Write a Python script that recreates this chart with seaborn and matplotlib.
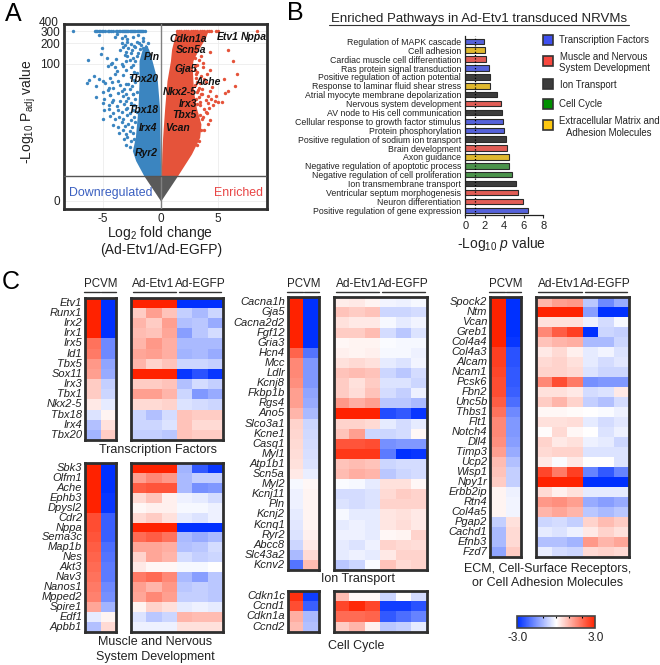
import numpy as np
import pandas as pd
import seaborn as sns
import matplotlib.pyplot as plt
from matplotlib.colors import LinearSegmentedColormap, Normalize
from matplotlib.cm import ScalarMappable
from matplotlib.patches import Rectangle

W, H = 660, 665

# panel A: dense wedges read as envelopes, sparse points read one by one
blue_core_y = [1.32, 2.88, 4.43, 7.5, 22, 56, 111, 164, 195]
blue_core_inner = [0, -0.02, -0.03, -0.05, -0.1, -0.29, -0.75, -1.05, -1.3]
blue_core_outer = [-1.45, -2.17, -2.46, -2.2, -1.97, -1.88, -1.88, -1.6, -1.3]
red_core_y = [1.32, 3.85, 7.5, 12.3, 22, 35, 56, 88, 111, 164, 244, 300]
red_core_inner = [0.05, 0.1, 0.17, 0.25, 0.35, 0.45, 0.55, 0.75, 0.85, 0.95, 1.2, 1.35]
red_core_outer = [1.45, 2.67, 3.39, 3.5, 3.1, 2.9, 2.8, 2.75, 2.8, 3.3, 3.9, 4.1]
cone_lfc = [-1.45, 0, 1.45]
cone_y = [1.32, 0, 1.32]
thresh_y = 1.32

blue_top_lfc = [-7.65, -5.7, -5.6, -5.5, -5.4, -5.3, -5.1, -5.0, -4.8, -4.6, -4.5, -4.3, -4.1, -3.9,
                -3.8, -3.6, -3.5, -3.4, -3.3, -3.2, -3.1, -3.0, -2.9, -2.8, -2.7, -2.6, -2.5, -2.4,
                -2.3, -2.2, -2.1, -2.0, -1.9, -1.8, -1.7, -1.6, -1.5, -1.4]
blue_lfc = [-5.36, -4.0, -3.8, -3.4, -3.1, -2.9, -2.4, -2.0, -1.5,
            -3.4, -3.1, -2.9, -2.6, -2.3, -2.1, -1.9, -1.7, -1.5, -1.3, -1.1,
            -5.1, -3.5, -3.3, -3.0, -2.8, -2.5, -2.2, -2.0, -1.8, -1.5, -1.2,
            -5.2, -4.7, -3.1, -2.9, -2.6, -2.4, -2.1,
            -6.3, -4.3, -4.2, -3.9, -3.4, -3.0, -2.7, -2.4, -2.2,
            -4.6, -4.0, -3.8, -3.3, -3.0, -2.6, -2.3,
            -6.2, -6.4, -5.8, -5.4, -5.0, -4.4, -4.0, -3.7, -3.3, -3.0, -2.6, -2.3, -2.1,
            -5.6, -4.8, -4.5, -4.2, -3.5, -3.2, -2.8, -2.5, -2.2,
            -5.0, -4.6, -4.4, -4.1, -3.7, -3.4, -3.0, -2.7, -2.4, -2.1,
            -5.6, -4.9, -4.4, -4.1, -3.3, -3.0, -2.8, -2.4, -2.2,
            -5.0, -4.5, -4.2, -3.8, -3.5, -3.2, -2.9, -2.6, -2.3,
            -4.9, -4.5, -4.1, -3.7, -3.4, -3.0, -2.7, -2.4, -2.1,
            -5.0, -4.4, -4.0, -3.6, -3.3, -2.9, -2.6, -2.3,
            -4.1, -3.7, -3.4, -3.1, -2.8, -2.5, -2.2,
            -3.6, -3.3, -3.0, -2.7, -2.4,
            -3.2, -2.9, -2.6, -2.3,
            -3.0, -2.7]
blue_y = [262, 245, 270, 238, 255, 228, 250, 265, 235,
          205, 190, 212, 196, 182, 208, 200, 188, 215, 178, 205,
          172, 160, 178, 150, 168, 158, 175, 145, 165, 172, 155,
          138, 122, 135, 128, 142, 120, 132,
          112, 100, 104, 118, 98, 108, 115, 96, 110,
          92, 88, 78, 94, 82, 90, 76,
          58, 52, 66, 60, 55, 62, 70, 56, 68, 50, 64, 58, 72,
          46, 52, 44, 54, 48, 42, 50, 46, 54,
          38, 41, 34, 43, 37, 40, 36, 42, 35, 38,
          32, 30, 34, 29, 33, 28, 31, 35, 30,
          26, 24, 27, 23, 28, 25, 22, 26, 24,
          20, 21, 18.5, 20, 19, 21, 18, 20, 19,
          15, 16.5, 14.5, 16, 15, 17, 14, 16,
          12, 11, 13, 11.5, 12.5, 11, 13,
          9, 10, 8.5, 9.5, 9,
          7, 7.5, 6.5, 7,
          5.6, 5.2]

red_top_lfc = [1.4, 1.6, 1.8, 2.0, 2.2, 2.4, 2.6, 2.8, 3.0, 3.2, 3.4, 3.6, 3.8, 4.0, 4.2, 4.4, 4.85, 5.0, 8.35]
red_lfc = [4.26, 5.85, 6.3, 6.6, 6.5, 5.85, 5.57, 5.5, 4.84, 4.4, 4.1, 5.3, 5.0, 4.55, 4.1, 3.8, 3.7, 4.0, 4.26,
           3.5, 3.8, 4.0, 4.26, 4.1, 3.8, 3.5, 3.3, 3.2, 3.6, 3.9, 3.2, 3.4, 3.1, 3.3, 3.5, 3.2, 3.6, 3.4,
           3.0, 3.3, 3.7, 4.3, 3.5, 3.2, 3.1, 3.4, 3.9, 4.2, 3.1, 3.4, 3.7, 3.0, 3.3, 3.0, 3.2, 4.5, 3.6,
           2.95, 3.15, 3.05, 3.25, 4.7, 3.95]
red_y = [147, 159, 109, 71, 46, 40, 37, 60, 33, 30, 33, 26.5, 27, 24, 26, 60, 88, 71, 40,
         35, 21, 18, 14, 12.3, 9.8, 9.8, 6.5, 5.6, 15, 29, 75, 52, 62, 44, 66, 95, 42, 27,
         120, 115, 103, 80, 130, 38, 30, 24, 19, 22, 18, 17, 16, 82, 32, 48, 25, 45, 35,
         92, 54, 70, 41, 28, 54]

gene_marks = ["Pln", "Tbx20", "Tbx18", "Irx4", "Ryr2", "Cdkn1a", "Etv1", "Nppa", "Scn5a", "Gja5", "Ache",
              "Nkx2-5", "Irx3", "Tbx5", "Vcan"]
gene_lfc = [-0.75, -1.5, -1.5, -1.07, -1.28, 2.4, 5.8, 8.06, 2.64, 2.14, 4.1, 1.68, 2.35, 2.1, 1.5]
gene_y = [127, 60, 20, 10.5, 4.07, 233, 250, 250, 158, 83, 54, 38, 25, 17, 10.6]

# panel B
pathways = ["Regulation of MAPK cascade", "Cell adhesion", "Cardiac muscle cell differentiation",
            "Ras protein signal transduction", "Positive regulation of action potential",
            "Response to laminar fluid shear stress", "Atrial myocyte membrane depolarization",
            "Nervous system development", "AV node to His cell communication",
            "Cellular response to growth factor stimulus", "Protein phosphorylation",
            "Positive regulation of sodium ion transport", "Brain development", "Axon guidance",
            "Negative regulation of apoptotic process", "Negative regulation of cell proliferation",
            "Ion transmembrane transport", "Ventricular septum morphogenesis", "Neuron differentiation",
            "Positive regulation of gene expression"]
pathway_logp = [1.9, 2.05, 2.1, 2.4, 2.5, 2.5, 3.3, 3.7, 3.8, 3.9, 4.0, 4.2, 4.3, 4.45, 4.5, 4.8, 5.2, 5.4, 5.9, 6.4]
pathway_group = ["tf", "ecm", "muscle", "tf", "ion", "ecm", "ion", "muscle", "ion", "tf", "tf", "ion", "muscle",
                 "ecm", "cycle", "cycle", "ion", "muscle", "muscle", "tf"]
group_colors = {"tf": "#3f50f0", "muscle": "#f8483f", "ion": "#3c3c3c", "cycle": "#3f9f3f", "ecm": "#fdc810"}
legend_colors = ["#3f50f0", "#f8483f", "#3c3c3c", "#009000", "#fdc810"]

# panel C
tf_genes = ["Etv1", "Runx1", "Irx2", "Irx1", "Irx5", "Id1", "Tbx5", "Sox11", "Irx3", "Tbx1", "Nkx2-5", "Tbx18",
            "Irx4", "Tbx20"]
tf_pcvm_a = [3, 3, 3, 3, 1.9, 1.8, 1.4, 1.3, 0.7, 0.7, 0.3, -0.4, -0.9, -1.1]
tf_pcvm_b = [-3, -3, -3, -3, -1.7, -1.7, -1.3, -1.2, -0.7, -0.6, -0.3, 0.15, 0.4, 0.7]
tf_ad = [[3, 3, 3, -3, -3, -3], [0.7, 1.3, 0.8, -0.7, -1, -0.6], [1, 0.7, 1.3, -0.9, -0.8, -1.2],
         [0.9, 0.8, 1.2, -1.4, -0.8, -0.5], [1, 1.4, 1.1, -1, -1, -1], [1.2, 1.3, 1.1, -1.1, -1, -1.2],
         [1, 0.6, 0.8, -0.6, -0.6, -0.7], [3, 3, 3, -2.9, -2.5, -2.9], [0.7, 0.7, 0.8, -0.9, -0.5, -0.7],
         [1.3, 1.3, 1, -0.6, -1.5, -1.2], [0.5, 0.5, 0.6, -0.4, -0.5, -0.6], [-0.6, -0.9, -0.5, 0.8, 0.7, 0.7],
         [-0.6, -0.6, -0.4, 0.8, 0.5, 0.5], [-0.7, -0.7, -0.8, 0.8, 0.7, 0.7]]

muscle_genes = ["Sbk3", "Olfm1", "Ache", "Ephb3", "Dpysl2", "Cdr2", "Nppa", "Sema3c", "Map1b", "Nes", "Akt3", "Nav3",
                "Nanos1", "Mpped2", "Spire1", "Edf1", "Apbb1"]
muscle_pcvm_a = [3, 3, 3, 3, 3, 2.4, 2.4, 2.3, 2.2, 2.1, 2, 1.9, 1.8, 1.7, 1.2, -0.3, -0.9]
muscle_pcvm_b = [-3, -3, -3, -2.9, -2.9, -2.3, -2.3, -2.3, -2.1, -2, -1.9, -1.9, -1.7, -1.6, -1.1, 0.15, 0.5]
muscle_ad = [[3, 3, 3, -1.1, -2.4, -2.9], [1.3, 1.6, 1.4, -1, -0.7, -0.7], [2.2, 2.3, 2.3, -1, -1.6, -1.5],
             [0.5, 0.8, 0.2, -0.2, -0.3, -0.5], [0.1, 0.2, 0.2, -0.1, -0.1, -0.2], [0.5, 0.7, 0.4, -0.3, -0.4, -0.2],
             [3, 3, 3, -3, -3, -3], [2, 2.2, 1.9, -1, -1.2, -1], [1.2, 1.2, 1.1, -0.9, -0.8, -0.5],
             [0.6, 1.2, 1, -0.5, -0.7, -0.6], [0.3, 0.1, 0.1, -0.1, -0.1, 0], [1.8, 2, 1.6, -1, -1.4, -0.8],
             [1.3, 1, 1.4, -0.8, -0.7, -0.8], [1.2, 1.6, 1.3, -0.7, -0.7, -0.8], [0.15, 0.6, 0.4, -0.3, -0.2, -0.3],
             [-0.4, -0.8, -0.6, 1, 0.9, 0.9], [-0.2, -0.2, -0.2, 0.4, 0.4, 0.4]]

ion_genes = ["Cacna1h", "Gja5", "Cacna2d2", "Fgf12", "Gria3", "Hcn4", "Mcc", "Ldlr", "Kcnj8", "Fkbp1b", "Rgs4", "Ano5",
             "Slco3a1", "Kcne1", "Casq1", "Myl1", "Atp1b1", "Scn5a", "Myl2", "Kcnj11", "Pln", "Kcnj2", "Kcnq1", "Ryr2",
             "Abcc8", "Slc43a2", "Kcnv2"]
ion_pcvm_a = [3, 3, 3, 3, 3, 2.1, 1.6, 1.6, 1.5, 1.3, 1.3, 1, 0.6, 0.55, 0.5, 0.45, 0.4, 0.3, -0.1, -0.2, -0.2, -0.3,
              -0.35, -0.4, -0.6, -1, -2]
ion_pcvm_b = [-3, -3, -3, -3, -3, -2, -1.5, -1.5, -1.5, -1.3, -1.2, -1, -0.6, -0.55, -0.5, -0.45, -0.4, -0.25, 0.1,
              0.15, 0.15, 0.15, 0.15, 0.2, 0.3, 0.5, 0.9]
ion_ad = [[0.25, 0.3, 0.15, -0.15, -0.2, -0.1], [0.8, 0.7, 0.8, -0.6, -0.6, -0.5], [0.4, 0.3, 0.3, -0.1, -0.3, -0.15],
          [0.7, 0.7, 0.9, -0.5, -0.8, -0.4], [0.1, 0.15, 0.15, -0.05, -0.1, -0.1], [0.2, 0.15, 0.2, -0.1, -0.1, -0.2],
          [0.4, 0.5, 0.4, -0.3, -0.4, -0.15], [0.8, 0.9, 0.8, -0.6, -0.8, -0.5], [0.7, 0.4, 0.7, -0.4, -0.4, -0.6],
          [0.7, 0.45, 0.8, -0.5, -0.7, -0.2], [1.4, 1.1, 1.3, -0.8, -0.8, -1], [3, 3, 3, -2.6, -2.4, -2.9],
          [0.6, 0.6, 0.5, -0.3, -0.5, -0.3], [0.8, 1.3, -0.6, -0.6, -0.5, 0.1], [2.3, 2.3, 2.4, -1.6, -1.5, -1.5],
          [2.7, 2.7, 2.7, -1.9, -3, -2.9], [0.8, 0.9, 0.8, -0.6, -0.5, -0.5], [0.9, 1.1, 1, -0.8, -0.6, -0.5],
          [-0.05, -0.1, -0.3, 0.4, 0.4, 0.1], [-0.5, -0.5, -0.4, 0.5, 0.7, 0.6], [-0.4, -0.5, -0.4, 0.6, 0.6, 0.6],
          [-0.1, -0.3, -0.3, 0.35, 0.4, 0.3], [-0.3, -0.2, -0.3, 0.35, 0.45, 0.3], [-0.2, -0.2, -0.3, 0.1, 0.15, 0.6],
          [-0.3, -0.4, -0.2, 0.6, 0.5, 0.45], [-0.3, -0.2, -0.3, 0.3, 0.6, 0.6], [-0.8, -0.6, -0.05, 0.8, 0.5, 0.6]]

cycle_genes = ["Cdkn1c", "Ccnd1", "Cdkn1a", "Ccnd2"]
cycle_pcvm_a = [2.8, 2.4, 1.1, 0.9]
cycle_pcvm_b = [-2.8, -2.3, -1, -0.9]
cycle_ad = [[0.9, 0.1, 0.1, -0.6, 0, -0.5], [2.5, 2.9, 2.5, -2.8, -2.8, -2.5], [2, 2, 2.1, -2.4, -2.1, -1.8],
            [0.7, 1, 0.2, -0.8, -0.7, -0.3]]

ecm_genes = ["Spock2", "Ntm", "Vcan", "Greb1", "Col4a4", "Col4a3", "Alcam", "Ncam1", "Pcsk6", "Fbn2", "Unc5b", "Thbs1",
             "Flt1", "Notch4", "Dll4", "Timp3", "Ucp2", "Wisp1", "Npy1r", "Erbb2ip", "Rtn4", "Col4a5", "Pgap2", "Cachd1",
             "Efnb3", "Fzd7"]
ecm_pcvm_a = [3, 3, 3, 3, 3, 2.6, 2.6, 2.5, 2.4, 2.4, 2.2, 1.9, 1.6, 1.6, 1.5, 1.3, 0.9, 0.8, 0.7, 0.15, 0.15, 0.15,
              -0.7, -1, -1, -1.3]
ecm_pcvm_b = [-3, -3, -3, -3, -2.9, -2.5, -2.5, -2.4, -2.4, -2.3, -2.1, -1.7, -1.5, -1.5, -1.4, -1.2, -0.9, -0.7, -0.7,
              -0.2, -0.15, -0.15, 0.4, 0.5, 0.5, 0.7]
ecm_ad = [[1, 1.3, 1.4, -0.8, -1.7, -1.2], [3, 3, 3, -1.4, -3, -3], [0.4, 0.4, 0.4, -0.2, -0.5, -0.1],
          [1.6, 2.2, 2.6, -3, -0.6, -0.7], [0.8, 1, 1.1, -1, -1, -0.6], [0.3, 0.5, 0.2, -0.3, -0.15, -0.4],
          [0.5, 0.6, 0.4, -0.3, -0.5, -0.35], [0.6, 0.6, 0.5, -0.4, -0.6, -0.6], [1.6, 2.4, 1.8, -1.6, -1.5, -1.5],
          [0.4, 0.4, 0.3, -0.5, -0.4, 0.3], [0.7, 1, 0.6, -0.7, -0.9, -0.5], [0.1, 0.1, 0.05, 0, -0.05, -0.2],
          [0.4, 0.4, 0.45, -0.3, -0.5, -0.35], [0.03, 0.5, 0.1, 0, -0.4, -0.2], [0.6, 0.3, 0.4, -0.2, -0.3, -0.6],
          [0.5, 0.6, 0.6, -0.4, -0.4, -0.4], [0.3, -0.05, 0.3, 0, 0, -0.4], [2.5, 1.8, 2.6, -1.8, -2.4, -1.8],
          [3, 3, 3, -3, -3, -3], [0.5, 0.2, 0.4, -0.3, -0.3, -0.3], [1.4, 1.5, 1.3, -1.2, -1.4, -1.2],
          [1, 1.2, 1, -0.8, -1, -0.8], [-0.6, -0.5, -0.7, 0.6, 0.9, 0.7], [-0.3, -0.4, -0.2, 0.3, 0.6, 0.4],
          [-0.9, -0.9, -1.1, 1.4, 1, 1.2], [-0.25, -0.5, -0.6, 0.5, 0.6, 0.5]]

sns.set_theme(style="white")
plt.rcParams["font.family"] = ["Liberation Sans", "DejaVu Sans"]
plt.rcParams["mathtext.fontset"] = "custom"
plt.rcParams["mathtext.rm"] = "Liberation Sans"
plt.rcParams["mathtext.it"] = "Liberation Sans:italic"
plt.rcParams["mathtext.default"] = "regular"

DARK = "#2f2f2f"
TXT = "#222222"
fig = plt.figure(figsize=(W / 100, H / 100), dpi=100, facecolor="white")


def px_axes(left, top, right, bottom):
    return fig.add_axes([left / W, 1 - bottom / H, (right - left) / W, (bottom - top) / H])


def px_text(x, y, s, size=8, ha="center", **kw):
    fig.text(x / W, 1 - y / H, s, fontsize=size, ha=ha, va="center", color=kw.pop("color", TXT), **kw)


def px_line(x0, x1, y, lw=1.0):
    fig.add_artist(plt.Line2D([x0 / W, x1 / W], [1 - y / H] * 2, color="#333333", lw=lw))


def to_log(y):
    return np.log10(1 + np.maximum(y, -0.99))


def from_log(v):
    return 10 ** v - 1


# ---- A: volcano
ax = px_axes(64, 24, 267, 209)
ax.set_yscale("function", functions=(to_log, from_log))
ax.set_xlim(-8.4, 9.24)
ax.set_ylim(-0.236, 383)
ax.grid(True, color="#ececec", lw=0.6)
ax.set_axisbelow(True)
ax.fill_betweenx(blue_core_y, blue_core_inner, blue_core_outer, color="#3b85c0", lw=0, zorder=2)
ax.fill_betweenx(red_core_y, red_core_inner, red_core_outer, color="#e5533a", lw=0, zorder=2)
ax.fill_between(cone_lfc, cone_y, thresh_y, color="#5a5a5a", lw=0, zorder=2)
sns.scatterplot(x=blue_lfc, y=blue_y, s=6, color="#3b85c0", linewidth=0, ax=ax, zorder=3)
sns.scatterplot(x=blue_top_lfc, y=[300] * len(blue_top_lfc), s=6, color="#3b85c0", linewidth=0, ax=ax, zorder=3)
sns.scatterplot(x=red_lfc, y=red_y, s=6, color="#e5533a", linewidth=0, ax=ax, zorder=3)
sns.scatterplot(x=red_top_lfc, y=[300] * len(red_top_lfc), s=6, color="#e5533a", linewidth=0, ax=ax, zorder=3)
ax.axvline(0, color="#808080", lw=1, zorder=4)
ax.axhline(thresh_y, color="#555555", lw=1, zorder=4)
for name, gx, gy in zip(gene_marks, gene_lfc, gene_y):
    ax.text(gx, gy, name, fontsize=7.5, style="italic", weight="bold", color="#111111", ha="center", va="center",
            zorder=5)
ax.set_xticks([-5, 0, 5])
ax.set_yticks([0, 100, 200, 300])
ax.set_xticklabels(["-5", "0", "5"])
ax.tick_params(labelsize=8.5, length=0, pad=3, colors=TXT)
ax.text(-0.025, 400, "400", transform=ax.get_yaxis_transform(), fontsize=8.5, color=TXT, ha="right", va="center")
ax.text(-8.0, 0.32, "Downregulated", fontsize=8.9, color="#3a5fc0", ha="left", va="center", zorder=5)
ax.text(8.9, 0.32, "Enriched", fontsize=8.9, color="#e84545", ha="right", va="center", zorder=5)
for s in ax.spines.values():
    s.set_visible(True)
    s.set_color(DARK)
    s.set_linewidth(2)
px_text(160, 233, "Log$_{2}$ fold change", size=10)
px_text(161, 250, "(Ad-Etv1/Ad-EGFP)", size=10)
px_text(28, 112, "-Log$_{10}$ P$_{adj}$ value", size=10, rotation=90)

# ---- B: pathway bars
ax = px_axes(465.3, 36, 543.3, 215)
path_df = pd.DataFrame({"pathway": pathways, "logp": pathway_logp, "group": pathway_group})
sns.barplot(data=path_df, x="logp", y="pathway", hue="group", palette=group_colors, dodge=False, width=0.62,
            edgecolor="#2a2a2a", linewidth=0.8, legend=False, ax=ax)
ax.set_xlim(0, 8)
ax.set_ylim(19.53, -0.6)
ax.axvline(1, color="black", lw=0.9, ls=(0, (1, 1.6)), zorder=5)
ax.set_xticks([0, 2, 4, 6, 8])
ax.set_xlabel("")
ax.set_ylabel("")
ax.tick_params(axis="y", labelsize=6.3, length=0, pad=3, colors=TXT)
ax.tick_params(axis="x", labelsize=8, length=2.5, width=0.8, pad=1.5, colors=TXT, bottom=True)
for side in ["top", "right"]:
    ax.spines[side].set_visible(False)
for side in ["left", "bottom"]:
    ax.spines[side].set_color("#222222")
    ax.spines[side].set_linewidth(0.9)
px_text(479, 19, "Enriched Pathways in Ad-Etv1 transduced NRVMs", size=9.5)
px_line(329, 629, 24.5, lw=0.8)
px_text(502, 244, "-Log$_{10}$ $\\mathit{p}$ value", size=10)

for c, y in zip(legend_colors, [39.5, 61, 83.5, 103.5, 125]):
    fig.add_artist(Rectangle(((547.5 - 5) / W, 1 - (y + 5) / H), 10 / W, 10 / H, facecolor=c, edgecolor="#333333",
                             lw=1.2, transform=fig.transFigure))
px_text(559, 40, "Transcription Factors", size=6.9, ha="left")
px_text(604, 57, "Muscle and Nervous", size=6.9)
px_text(559, 68, "System Development", size=6.9, ha="left")
px_text(560, 84.5, "Ion Transport", size=6.9, ha="left")
px_text(559, 104, "Cell Cycle", size=6.9, ha="left")
px_text(609, 121, "Extracellular Matrix and", size=6.9)
px_text(609, 132.5, "Adhesion Molecules", size=6.9)

# ---- C: heatmaps
heat_cmap = LinearSegmentedColormap.from_list("bwr3", ["#0030ff", "#ffffff", "#ff2200"])


def draw_heat(box, values, genes=None):
    ax = px_axes(*box)
    sns.heatmap(np.array(values), ax=ax, cmap=heat_cmap, vmin=-3, vmax=3, cbar=False, xticklabels=False,
                yticklabels=genes if genes is not None else False, linewidths=0)
    ax.tick_params(left=False, bottom=False, length=0, pad=2)
    if genes is not None:
        ax.set_yticklabels(genes, rotation=0, fontsize=8, style="italic", color=TXT)
    for s in ax.spines.values():
        s.set_visible(True)
        s.set_color(DARK)
        s.set_linewidth(2)
    return ax


def panel(xp, xa, top, bottom, genes, a, b, ad):
    draw_heat((xp[0], top, xp[1], bottom), np.column_stack([a, b]), genes)
    draw_heat((xa[0], top, xa[1], bottom), ad)


col1 = ((85, 116), (130.7, 223.3))
col2 = ((287.7, 319), (333.7, 426.7))
col3 = ((490, 521.3), (536, 629.3))

panel(*col1, 297.7, 440, tf_genes, tf_pcvm_a, tf_pcvm_b, tf_ad)
panel(*col1, 463, 631.7, muscle_genes, muscle_pcvm_a, muscle_pcvm_b, muscle_ad)
panel(*col2, 297.3, 570, ion_genes, ion_pcvm_a, ion_pcvm_b, ion_ad)
panel(*col2, 591, 631.7, cycle_genes, cycle_pcvm_a, cycle_pcvm_b, cycle_ad)
panel(*col3, 297.3, 556.7, ecm_genes, ecm_pcvm_a, ecm_pcvm_b, ecm_ad)

for xp, xa in [col1, col2, col3]:
    xm = (xp[0] + xp[1]) / 2
    px_text(xm, 284, "PCVM", size=8.3)
    px_line(xp[0] - 1, xm - 0.5, 291.5)
    px_line(xm + 0.5, xp[1] + 0, 291.5)
    am = (xa[0] + xa[1]) / 2
    px_text(am - 23.5, 284, "Ad-Etv1", size=8.6)
    px_text(am + 23, 284, "Ad-EGFP", size=8.6)
    px_line(xa[0] + 2, am - 1, 291.5)
    px_line(am + 2, xa[1] - 2, 291.5)

px_text(158, 450, "Transcription Factors", size=9)
px_text(155, 642, "Muscle and Nervous", size=9)
px_text(155, 657, "System Development", size=9)
px_text(358, 579, "Ion Transport", size=9)
px_text(356, 646, "Cell Cycle", size=9)
px_text(548, 569, "ECM, Cell-Surface Receptors,", size=9)
px_text(548, 583.5, "or Cell Adhesion Molecules", size=9)

# colour bar
cax = px_axes(517.3, 616, 595.3, 627.7)
cb = fig.colorbar(ScalarMappable(norm=Normalize(-3, 3), cmap=heat_cmap), cax=cax, orientation="horizontal")
cb.set_ticks([-3, 3])
cb.set_ticklabels(["-3.0", "3.0"])
cax.tick_params(length=0, labelsize=8.5, pad=3, colors=TXT)
cax.vlines([-1, 0, 1, 2], 0.82, 1, color="black", lw=0.8)
cb.outline.set_edgecolor("#444444")
cb.outline.set_linewidth(1.2)

px_text(13, 14, "A", size=18, color="black")
px_text(295, 13, "B", size=18, color="black")
px_text(11, 282, "C", size=18, color="black")

fig.savefig("out.png", dpi=100)
